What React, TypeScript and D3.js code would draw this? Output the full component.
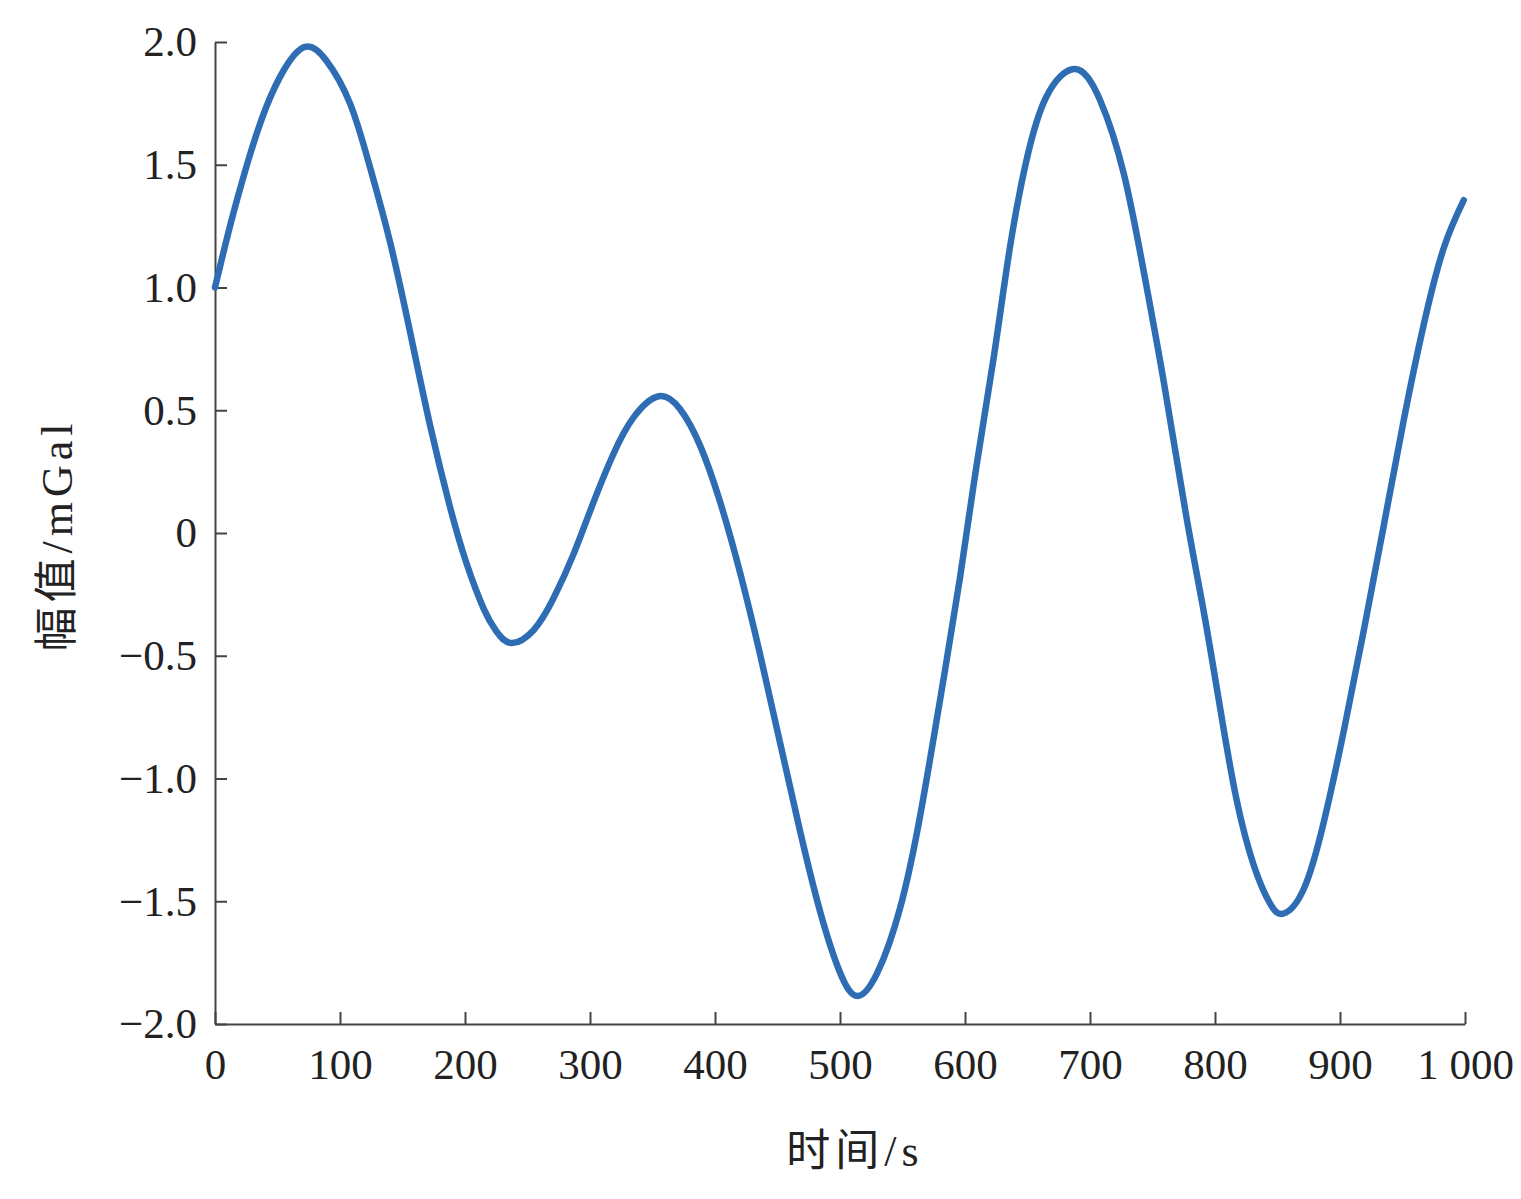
import React, { useEffect, useRef } from "react";
import * as d3 from "d3";

// readings: time (s) and amplitude (mGal)
const times = [0, 12, 23, 31, 41, 55, 72, 89, 108, 124, 140, 156, 172, 188, 201, 215, 225, 237, 255, 271, 287, 303, 319, 335, 355, 372, 388, 404, 420, 436, 452, 468, 484, 500, 514, 530, 548, 564, 580, 596, 609, 623, 636, 649, 665, 688, 708, 727, 743, 759, 777, 791, 804, 817, 831, 844, 855, 871, 887, 903, 919, 935, 951, 967, 983, 999];
const amplitude = [1.0, 1.25, 1.455, 1.59, 1.735, 1.885, 1.98, 1.925, 1.75, 1.49, 1.186, 0.82, 0.44, 0.106, -0.12, -0.309, -0.4, -0.448, -0.395, -0.264, -0.084, 0.128, 0.325, 0.472, 0.557, 0.505, 0.357, 0.128, -0.16, -0.493, -0.853, -1.213, -1.54, -1.79, -1.886, -1.79, -1.529, -1.155, -0.681, -0.182, 0.267, 0.716, 1.165, 1.514, 1.776, 1.89, 1.764, 1.464, 1.065, 0.616, 0.069, -0.32, -0.71, -1.08, -1.353, -1.509, -1.55, -1.45, -1.178, -0.807, -0.398, 0.03, 0.46, 0.849, 1.161, 1.356];

const xTicks = [0, 100, 200, 300, 400, 500, 600, 700, 800, 900, 1000];
const yTicks = [-2, -1.5, -1, -0.5, 0, 0.5, 1, 1.5, 2];
const xTitle = "时间/s";
const yTitle = "幅值/mGal";

const W = 1521;
const H = 1199;
const margin = { top: 42, right: 56, bottom: 175, left: 215 };
const FONT = "'Liberation Serif', 'Noto Sans CJK SC', serif";

const fmtY = (d: number) => (d === 0 ? "0" : (d < 0 ? "\u2212" : "") + Math.abs(d).toFixed(1));
const fmtX = (d: number) => (d >= 1000 ? "1 000" : String(d));

const App = () => {
    const ref = useRef<SVGSVGElement | null>(null);

    useEffect(() => {
        const svg = d3.select(ref.current);
        svg.selectAll("*").remove();

        const x = d3.scaleLinear().domain([0, 1000]).range([margin.left, W - margin.right]);
        const y = d3.scaleLinear().domain([-2, 2]).range([H - margin.bottom, margin.top]);

        const xAxis = svg.append("g")
            .attr("transform", `translate(0, ${H - margin.bottom})`)
            .call(d3.axisBottom(x).tickValues(xTicks).tickFormat(fmtX as any).tickSize(-12).tickSizeOuter(0).tickPadding(24));
        const yAxis = svg.append("g")
            .attr("transform", `translate(${margin.left}, 0)`)
            .call(d3.axisLeft(y).tickValues(yTicks).tickFormat(fmtY as any).tickSize(-12).tickSizeOuter(0).tickPadding(18));

        [xAxis, yAxis].forEach(g => {
            g.attr("font-family", FONT).attr("font-size", 43);
            g.select(".domain").attr("stroke", "#444").attr("stroke-width", 2);
            g.selectAll(".tick line").attr("stroke", "#444").attr("stroke-width", 2);
            g.selectAll(".tick text").attr("fill", "#222");
        });

        const data = times.map((t, i) => ({ t, v: amplitude[i] }));
        const line = d3.line<{ t: number; v: number }>()
            .x(d => x(d.t))
            .y(d => y(d.v))
            .curve(d3.curveNatural);

        svg.append("path")
            .datum(data)
            .attr("fill", "none")
            .attr("stroke", "#2e6db4")
            .attr("stroke-width", 6.5)
            .attr("stroke-linejoin", "round")
            .attr("stroke-linecap", "round")
            .attr("d", line);

        svg.append("text")
            .attr("x", 855)
            .attr("y", 1166)
            .attr("text-anchor", "middle")
            .attr("font-family", FONT)
            .attr("font-size", 44)
            .attr("letter-spacing", 5)
            .attr("fill", "#222")
            .text(xTitle);

        svg.append("text")
            .attr("transform", `translate(72, ${535}) rotate(-90)`)
            .attr("text-anchor", "middle")
            .attr("font-family", FONT)
            .attr("font-size", 44)
            .attr("letter-spacing", 5)
            .attr("fill", "#222")
            .text(yTitle);
    }, []);

    return (
        <svg ref={ref} width={W} height={H} style={{ position: "absolute", left: 0, top: 0, background: "#fff" }} />
    );
};

export default App;
